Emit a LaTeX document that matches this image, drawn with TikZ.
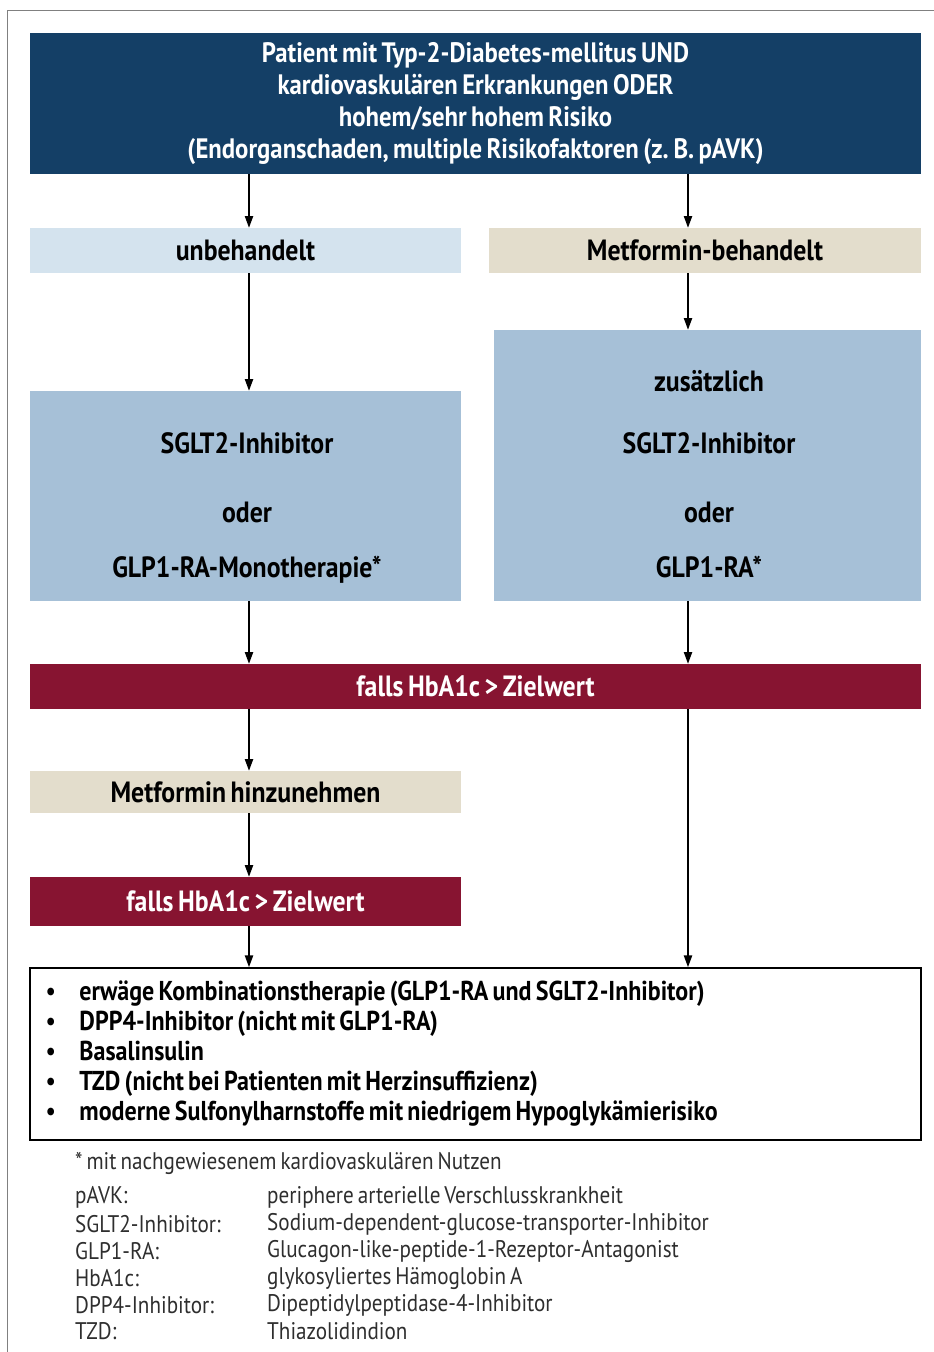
\documentclass[tikz,border=0pt]{standalone}
\usepackage{fontspec}
\setmainfont{PT Sans}[FakeStretch=0.88, WordSpace=0.7]
\usetikzlibrary{arrows.meta}
\definecolor{navy}{HTML}{143F66}
\definecolor{paleblue}{HTML}{D4E3EE}
\definecolor{beige}{HTML}{E3DDCC}
\definecolor{midblue}{HTML}{A6C0D7}
\definecolor{maroon}{HTML}{871431}
\definecolor{note}{HTML}{2E2E2E}
\tikzset{
  box/.style={rectangle, inner sep=0pt, align=center,
    font=\bfseries\fontsize{25}{28}\selectfont},
  navybox/.style={box, fill=navy, text=white, font=\bfseries\fontsize{24}{27.3}\selectfont},
  palebox/.style={box, fill=paleblue},
  beigebox/.style={box, fill=beige},
  midbox/.style={box, fill=midblue},
  redbar/.style={box, fill=maroon, text=white},
  boxtext/.style={box, fill=none},
  listbox/.style={rectangle, draw, line width=1.4pt, inner xsep=0.42cm, align=flush left,
    font=\bfseries\fontsize{23.3}{25.6}\selectfont},
  gloss/.style={anchor=west, inner sep=0pt, text=note, font=\fontsize{20.5}{23}\selectfont},
  arr/.style={-{Triangle[length=10pt,width=7pt]}, line width=1.3pt},
}
\newcommand{\bul}{\makebox[1.02cm][l]{\mdseries\textbullet}}
\begin{document}
\begin{tikzpicture}[x=0.03cm,y=-0.03cm]
\useasboundingbox (0,0) rectangle (934,1352);
% outer frame
\draw[gray, line width=0.8pt] (7,1352) -- (7,10) -- (934,10);
% column positions of the arrows
\coordinate (lcol) at (249,0);
\coordinate (rcol) at (688,0);
% Row 1: patient group
\node[navybox, minimum width=26.73cm, minimum height=4.23cm] (top) at (475.5,103.5)
  {Patient mit Typ-2-Diabetes-mellitus UND\\
   kardiovaskulären Erkrankungen ODER\\
   hohem/sehr hohem Risiko\\
   (Endorganschaden, multiple Risikofaktoren (z.\,B. pAVK)};
% Row 2: pretreatment
\node[palebox, minimum width=12.93cm, minimum height=1.35cm] (unb) at (245.5,250.5) {unbehandelt};
\node[beigebox, minimum width=12.96cm, minimum height=1.35cm] (met) at (705,250.5) {Metformin-behandelt};
% Row 3: first choice
\node[midbox, minimum width=12.93cm, minimum height=6.3cm] (lbig) at (245.5,496) {};
\node[boxtext] (lbigtxt) at (247,508)
  {SGLT2-Inhibitor\\[31pt] oder\\[19pt] GLP1-RA-Monotherapie*};
\node[midbox, minimum width=12.81cm, minimum height=8.13cm] (rbig) at (707.5,465.5) {};
\node[boxtext] (rbigtxt) at (709,474)
  {zusätzlich\\[25pt] SGLT2-Inhibitor\\[31pt] oder\\[19pt] GLP1-RA*};
% Row 4: target check
\node[redbar, minimum width=26.73cm, minimum height=1.35cm] (red1) at (475.5,686.5) {falls HbA1c > Zielwert};
\node[beigebox, minimum width=12.93cm, minimum height=1.26cm] (methin) at (245.5,792) {Metformin hinzunehmen};
\node[redbar, minimum width=12.93cm, minimum height=1.47cm] (red2) at (245.5,901.5) {falls HbA1c > Zielwert};
% Row 5: further options
\node[listbox, minimum width=26.73cm, minimum height=5.16cm, text width=25.8cm] (list) at (475.5,1054)
  {\bul erwäge Kombinationstherapie (GLP1-RA und SGLT2-Inhibitor)\\
   \bul DPP4-Inhibitor (nicht mit GLP1-RA)\\
   \bul Basalinsulin\\
   \bul TZD (nicht bei Patienten mit Herzinsuffizienz)\\
   \bul moderne Sulfonylharnstoffe mit niedrigem Hypoglykämierisiko};
% arrows
\draw[arr] (top.south -| lcol) -- (unb.north -| lcol);
\draw[arr] (top.south -| rcol) -- (met.north -| rcol);
\draw[arr] (unb.south -| lcol) -- (lbig.north -| lcol);
\draw[arr] (met.south -| rcol) -- (rbig.north -| rcol);
\draw[arr] (lbig.south -| lcol) -- (red1.north -| lcol);
\draw[arr] (rbig.south -| rcol) -- (red1.north -| rcol);
\draw[arr] (red1.south -| lcol) -- (methin.north -| lcol);
\draw[arr] (methin.south -| lcol) -- (red2.north -| lcol);
\draw[arr] (red2.south -| lcol) -- (list.north -| lcol);
\draw[arr] (red1.south -| rcol) -- (list.north -| rcol);
% footnote and abbreviations
\node[gloss] (fn) at (75,1163) {* mit nachgewiesenem kardiovaskulären Nutzen};
\node[gloss] (k1) at (75,1197) {pAVK:};
\node[gloss] (k2) at (75,1224) {SGLT2-Inhibitor:};
\node[gloss] (k3) at (75,1251) {GLP1-RA:};
\node[gloss] (k4) at (75,1278) {HbA1c:};
\node[gloss] (k5) at (75,1305) {DPP4-Inhibitor:};
\node[gloss] (k6) at (75,1331) {TZD:};
\node[gloss] (v1) at (267,1197) {periphere arterielle Verschlusskrankheit};
\node[gloss] (v2) at (267,1224) {Sodium-dependent-glucose-transporter-Inhibitor};
\node[gloss] (v3) at (267,1251) {Glucagon-like-peptide-1-Rezeptor-Antagonist};
\node[gloss] (v4) at (267,1278) {glykosyliertes Hämoglobin A};
\node[gloss] (v5) at (267,1305) {Dipeptidylpeptidase-4-Inhibitor};
\node[gloss] (v6) at (267,1331) {Thiazolidindion};
\end{tikzpicture}
\end{document}
